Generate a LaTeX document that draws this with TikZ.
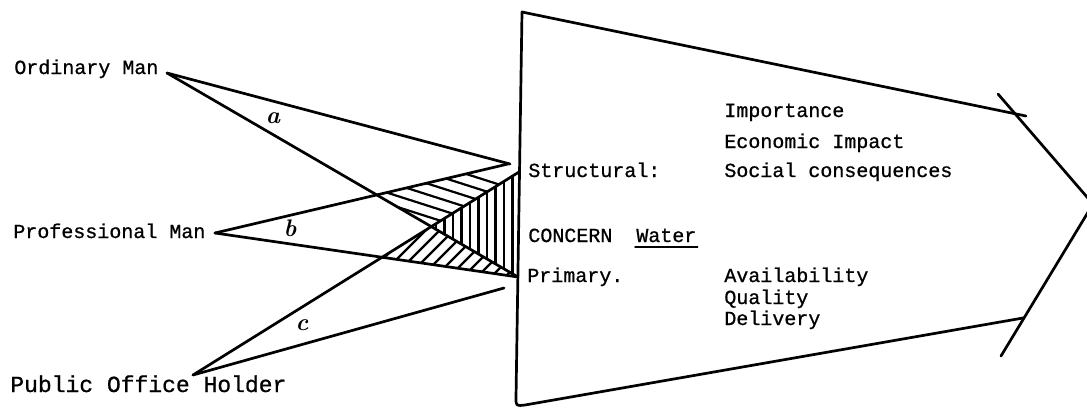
\documentclass[tikz,border=0pt]{standalone}
\usepackage{fontspec}
\newfontfamily\tw[BoldFont={Liberation Mono},BoldFeatures={FakeBold=0.8}]{Liberation Mono}
\begin{document}
\begin{tikzpicture}[x=1pt,y=-1pt,line width=2.7pt,line cap=round,line join=round,
  lbl/.style={font=\tw\bfseries\fontsize{20}{20}\selectfont,inner sep=0pt,anchor=base west},
  lblbig/.style={font=\tw\bfseries\fontsize{23}{23}\selectfont,inner sep=0pt,anchor=base west},
  hand/.style={font=\bfseries\itshape\fontsize{24}{24}\selectfont,inner sep=0pt},
  hatch/.style={line width=2.2pt}]
\useasboundingbox (0,0) rectangle (1087,407);
% points
\coordinate (O) at (167,73);
\coordinate (B) at (215,233);
\coordinate (C) at (193,375);
\coordinate (S) at (519,172);
\coordinate (P) at (518,277);
\coordinate (Oe) at (510,164);
\coordinate (Be) at (508,164);
\coordinate (Ce) at (504,288);
\coordinate (Y1) at (intersection of O--P and B--Be);
\coordinate (X) at (intersection of O--P and C--S);
\coordinate (Z) at (intersection of B--P and C--S);
% big shape
\coordinate (TL) at (522,12);
\coordinate (TRx) at (1026,116);
\coordinate (X1) at (998,94);
\coordinate (Tip) at (1093,204);
\coordinate (X2) at (1001,356);
\coordinate (BR) at (1023,318);
\draw (TRx) -- (TL) -- (516,398) .. controls (516,406) .. (525,405) -- (BR);
\draw (X1) -- (Tip) -- (X2);
% hatching
\begin{scope}
\clip (Y1) -- (Be) -- (S) -- (X) -- cycle;
\foreach \k in {0,...,12} \draw[hatch] (360,{140+\k*11}) -- ++(200,64);
\end{scope}
\begin{scope}
\clip (S) -- (X) -- (P) -- cycle;
\foreach \x in {436,444.5,...,518} \draw[hatch] (\x,150) -- (\x,300);
\end{scope}
\begin{scope}
\clip (Z) -- (X) -- (P) -- cycle;
\foreach \x in {360,374,...,560} \draw[hatch] ({\x-50},290) -- ({\x+50},190);
\end{scope}
% connectors
\draw (O) -- (Oe);
\draw (O) -- (P);
\draw (B) -- (Be);
\draw (B) -- (P);
\draw (C) -- (S);
\draw (C) -- (Ce);
% labels
\node[lbl] (om) at (13,74) {Ordinary Man};
\node[lbl] (pm) at (12,238) {Professional Man};
\node[lblbig] (poh) at (9,392) {Public Office Holder};
\node[lbl] (st) at (527,177) {Structural:};
\node[lbl] (cn) at (527,242) {CONCERN};
\node[lbl] (wa) at (635,242) {Water};
\draw[line width=1.4pt] ([yshift=-5pt]wa.base west) -- ([yshift=-5pt]wa.base east);
\node[lbl] (pr) at (526,282) {Primary.};
\node[lbl] (im) at (723,117) {Importance};
\node[lbl] (ei) at (723,148) {Economic Impact};
\node[lbl] (sc) at (723,177) {Social consequences};
\node[lbl] (av) at (723,282) {Availability};
\node[lbl] (qu) at (723,304) {Quality};
\node[lbl] (de) at (723,325) {Delivery};
\node[hand] (la) at (273,118) {a};
\node[hand] (lb) at (290,228) {b};
\node[hand] (lc) at (302,325) {c};
\end{tikzpicture}
\end{document}
